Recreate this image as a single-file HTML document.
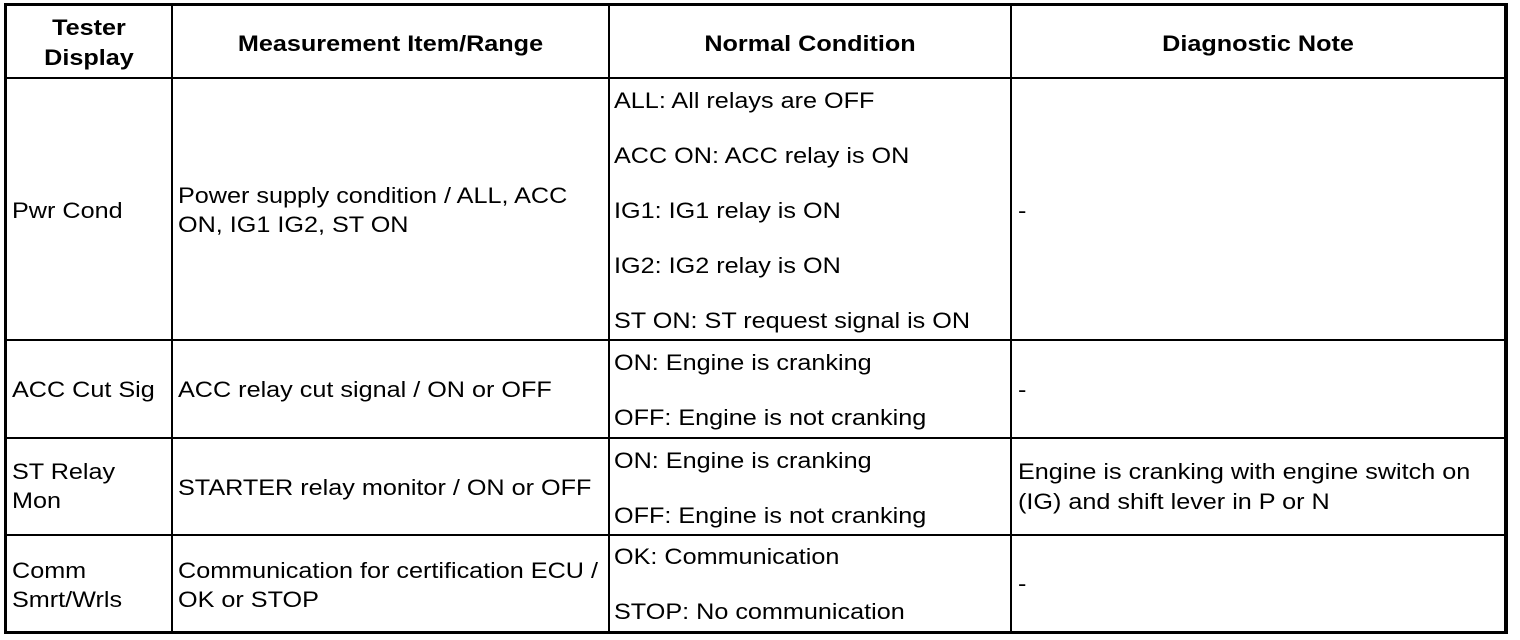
<!DOCTYPE html>
<html><head><meta charset="utf-8"><style>
body{margin:0;width:1520px;height:640px;background:#fff;position:relative;overflow:hidden;font-family:"Liberation Sans",Arial,sans-serif;font-size:22px;color:#000}
.l{position:absolute;background:#000}
.t{position:absolute;line-height:30px;white-space:nowrap;transform:scaleX(1.145);transform-origin:0 50%}
.b{font-weight:bold;text-align:center;transform-origin:50% 50%}
</style></head><body>
<div class="l" style="left:4px;top:3px;width:1504px;height:3px"></div>
<div class="l" style="left:4px;top:631px;width:1504px;height:3px"></div>
<div class="l" style="left:4px;top:3px;width:3px;height:631px"></div>
<div class="l" style="left:1504px;top:3px;width:4px;height:631px"></div>
<div class="l" style="left:171px;top:3px;width:2px;height:631px"></div>
<div class="l" style="left:608px;top:3px;width:2px;height:631px"></div>
<div class="l" style="left:1010px;top:3px;width:2px;height:631px"></div>
<div class="l" style="left:4px;top:77px;width:1504px;height:2px"></div>
<div class="l" style="left:4px;top:339px;width:1504px;height:2px"></div>
<div class="l" style="left:4px;top:437px;width:1504px;height:2px"></div>
<div class="l" style="left:4px;top:534px;width:1504px;height:2px"></div>

<div class="t b" style="left:7px;width:164px;top:13px;line-height:30px">Tester<br>Display</div>
<div class="t b" style="left:173px;width:435px;top:29px">Measurement Item/Range</div>
<div class="t b" style="left:610px;width:400px;top:29px">Normal Condition</div>
<div class="t b" style="left:1012px;width:492px;top:29px">Diagnostic Note</div>

<div class="t" style="left:12px;top:196px">Pwr Cond</div>
<div class="t" style="left:178px;top:181px">Power supply condition / ALL, ACC</div>
<div class="t" style="left:178px;top:210px">ON, IG1 IG2, ST ON</div>
<div class="t" style="left:614px;top:86px">ALL: All relays are OFF</div>
<div class="t" style="left:614px;top:141px">ACC ON: ACC relay is ON</div>
<div class="t" style="left:614px;top:196px">IG1: IG1 relay is ON</div>
<div class="t" style="left:614px;top:251px">IG2: IG2 relay is ON</div>
<div class="t" style="left:614px;top:306px">ST ON: ST request signal is ON</div>
<div class="t" style="left:1018px;top:196px">-</div>

<div class="t" style="left:12px;top:375px">ACC Cut Sig</div>
<div class="t" style="left:178px;top:375px">ACC relay cut signal / ON or OFF</div>
<div class="t" style="left:614px;top:348px">ON: Engine is cranking</div>
<div class="t" style="left:614px;top:403px">OFF: Engine is not cranking</div>
<div class="t" style="left:1018px;top:375px">-</div>

<div class="t" style="left:12px;top:457px;line-height:29px">ST Relay<br>Mon</div>
<div class="t" style="left:178px;top:473px">STARTER relay monitor / ON or OFF</div>
<div class="t" style="left:614px;top:446px">ON: Engine is cranking</div>
<div class="t" style="left:614px;top:501px">OFF: Engine is not cranking</div>
<div class="t" style="left:1018px;top:457px;line-height:30px">Engine is cranking with engine switch on<br>(IG) and shift lever in P or N</div>

<div class="t" style="left:12px;top:556px;line-height:29px">Comm<br>Smrt/Wrls</div>
<div class="t" style="left:178px;top:556px;line-height:29px">Communication for certification ECU /<br>OK or STOP</div>
<div class="t" style="left:614px;top:542px">OK: Communication</div>
<div class="t" style="left:614px;top:597px">STOP: No communication</div>
<div class="t" style="left:1018px;top:569px">-</div>
</body></html>
